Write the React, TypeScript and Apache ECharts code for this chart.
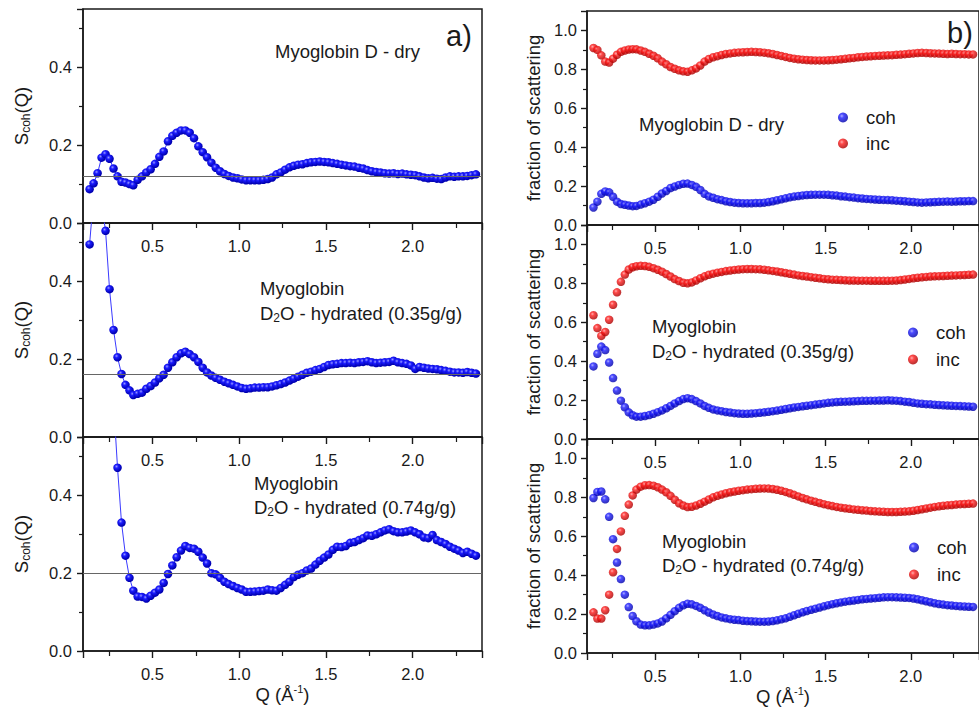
import React, { useEffect, useRef } from "react";
import * as echarts from "echarts";

// Momentum transfer Q (Å^-1), shared by every panel
const Q = [
  0.138, 0.161, 0.184, 0.207, 0.23, 0.253, 0.276, 0.299, 0.322, 0.345, 0.368, 0.39,
  0.415, 0.44, 0.465, 0.49, 0.515, 0.54, 0.565, 0.59, 0.615, 0.64,
  0.665, 0.69, 0.715, 0.74, 0.765, 0.79, 0.815, 0.84, 0.865, 0.89,
  0.915, 0.94, 0.965, 0.99, 1.015, 1.04, 1.065, 1.09, 1.115, 1.14,
  1.165, 1.19, 1.215, 1.24, 1.265, 1.29, 1.315, 1.34, 1.365, 1.39,
  1.415, 1.44, 1.465, 1.49, 1.515, 1.54, 1.565, 1.59, 1.615, 1.64,
  1.665, 1.69, 1.715, 1.74, 1.765, 1.79, 1.815, 1.84, 1.865, 1.89,
  1.915, 1.94, 1.965, 1.99, 2.015, 2.04, 2.065, 2.09, 2.115, 2.14,
  2.165, 2.19, 2.215, 2.24, 2.265, 2.29, 2.315, 2.34, 2.365,
];

// Panel a) S_coh(Q)
const scohDry = [
  0.087, 0.102, 0.128, 0.168, 0.177, 0.165, 0.14, 0.12, 0.106, 0.104, 0.1, 0.097,
  0.111, 0.12, 0.13, 0.138, 0.152, 0.17, 0.184, 0.21, 0.224, 0.232,
  0.238, 0.238, 0.232, 0.218, 0.197, 0.182, 0.169, 0.155, 0.142, 0.133,
  0.126, 0.121, 0.117, 0.115, 0.112, 0.11, 0.11, 0.11, 0.11, 0.111,
  0.113, 0.117, 0.125, 0.13, 0.137, 0.143, 0.147, 0.15, 0.151, 0.154,
  0.156, 0.157, 0.158, 0.157, 0.156, 0.154, 0.152, 0.15, 0.148, 0.146,
  0.145, 0.142, 0.14, 0.136, 0.133, 0.131, 0.13, 0.128, 0.127, 0.128,
  0.126, 0.127, 0.125, 0.124, 0.123, 0.12, 0.117, 0.115, 0.116, 0.114,
  0.113, 0.117, 0.12, 0.119, 0.12, 0.12, 0.121, 0.123, 0.125,
];
const scoh035 = [
  0.495, 0.62, 0.66, 0.6, 0.53, 0.38, 0.275, 0.205, 0.162, 0.134, 0.12, 0.108,
  0.111, 0.114, 0.124, 0.131, 0.14, 0.151, 0.16, 0.178, 0.192, 0.205,
  0.215, 0.219, 0.213, 0.205, 0.193, 0.178, 0.166, 0.158, 0.152, 0.147,
  0.142, 0.138, 0.134, 0.13, 0.126, 0.124, 0.125, 0.127, 0.127, 0.128,
  0.128, 0.13, 0.133, 0.136, 0.14, 0.145, 0.15, 0.155, 0.16, 0.165,
  0.168, 0.172, 0.175, 0.18, 0.185, 0.187, 0.188, 0.19, 0.19, 0.191,
  0.19, 0.192, 0.193, 0.195, 0.192, 0.19, 0.191, 0.192, 0.193, 0.196,
  0.192, 0.19, 0.188, 0.184, 0.175, 0.18, 0.178, 0.176, 0.175, 0.174,
  0.172, 0.17, 0.168, 0.166, 0.166, 0.165, 0.167, 0.165, 0.163,
];
const scoh074 = [
  1.0, 1.1, 1.1, 1.0, 0.88, 0.76, 0.64, 0.471, 0.33, 0.245, 0.188, 0.155,
  0.14, 0.139, 0.135, 0.142, 0.15, 0.158, 0.175, 0.198, 0.22, 0.241,
  0.258, 0.27, 0.265, 0.263, 0.255, 0.24, 0.225, 0.2, 0.197, 0.188,
  0.178, 0.172, 0.167, 0.162, 0.158, 0.152, 0.152, 0.153, 0.154, 0.155,
  0.158, 0.156, 0.155, 0.162, 0.17, 0.178, 0.19, 0.196, 0.2, 0.207,
  0.212, 0.222, 0.232, 0.24, 0.248, 0.26, 0.268, 0.267, 0.27, 0.278,
  0.28, 0.285, 0.29, 0.297, 0.296, 0.3, 0.305, 0.31, 0.313, 0.308,
  0.305, 0.305, 0.307, 0.31, 0.305, 0.3, 0.292, 0.29, 0.298, 0.285,
  0.28, 0.275, 0.268, 0.263, 0.258, 0.252, 0.255, 0.25, 0.245,
];
const baselines = [0.12, 0.163, 0.2];

// Panel b) fraction of scattering
const cohDry = [
  0.09, 0.12, 0.16, 0.172, 0.168, 0.145, 0.12, 0.108, 0.104, 0.1, 0.097, 0.098,
  0.105, 0.112, 0.12, 0.13, 0.145, 0.162, 0.175, 0.19, 0.198, 0.206,
  0.212, 0.213, 0.206, 0.196, 0.18, 0.16, 0.147, 0.14, 0.133, 0.128,
  0.122, 0.118, 0.115, 0.113, 0.112, 0.112, 0.112, 0.113, 0.113, 0.115,
  0.118, 0.122, 0.127, 0.132, 0.137, 0.142, 0.146, 0.149, 0.152, 0.154,
  0.155, 0.156, 0.156, 0.156, 0.155, 0.153, 0.151, 0.148, 0.146, 0.143,
  0.141, 0.138, 0.136, 0.134, 0.133, 0.131, 0.13, 0.129, 0.128, 0.127,
  0.125, 0.124, 0.122, 0.12, 0.118, 0.116, 0.115, 0.116, 0.117, 0.118,
  0.119, 0.12, 0.121, 0.12, 0.121, 0.122, 0.122, 0.123, 0.123,
];
const incDry = [
  0.91, 0.9, 0.872, 0.84, 0.835, 0.855, 0.875, 0.89, 0.897, 0.902, 0.904, 0.903,
  0.897, 0.89, 0.88, 0.87, 0.857, 0.84, 0.826, 0.812, 0.803, 0.795,
  0.79, 0.788, 0.795, 0.805, 0.82, 0.84, 0.853, 0.862, 0.868, 0.874,
  0.879, 0.882, 0.885, 0.887, 0.888, 0.889, 0.89, 0.889, 0.888, 0.886,
  0.883, 0.879, 0.874, 0.869, 0.864, 0.859, 0.855, 0.852, 0.85, 0.848,
  0.847, 0.846, 0.846, 0.846, 0.847, 0.848, 0.85, 0.852, 0.854, 0.857,
  0.859, 0.862, 0.864, 0.866, 0.867, 0.869, 0.87, 0.871, 0.872, 0.873,
  0.875, 0.876, 0.878, 0.88, 0.882, 0.884, 0.885, 0.884, 0.883, 0.882,
  0.881, 0.88, 0.879, 0.88, 0.879, 0.878, 0.878, 0.877, 0.877,
];
const coh035 = [
  0.373, 0.438, 0.475, 0.457, 0.393, 0.313, 0.249, 0.197, 0.163, 0.137, 0.122, 0.115,
  0.115, 0.118, 0.123, 0.13, 0.138, 0.147, 0.158, 0.17, 0.183, 0.195,
  0.205, 0.21, 0.205, 0.195, 0.183, 0.17, 0.16, 0.152, 0.147, 0.143,
  0.139, 0.136, 0.133, 0.131, 0.13, 0.13, 0.131, 0.133, 0.135, 0.137,
  0.14, 0.143, 0.146, 0.15, 0.154, 0.158, 0.162, 0.165, 0.168, 0.171,
  0.174, 0.177, 0.18, 0.183, 0.186, 0.188, 0.19, 0.191, 0.192, 0.193,
  0.194, 0.195, 0.196, 0.196, 0.197, 0.197, 0.198, 0.198, 0.199, 0.198,
  0.197, 0.195, 0.192, 0.19, 0.186, 0.183, 0.181, 0.179, 0.178, 0.176,
  0.175, 0.173, 0.172, 0.171, 0.17, 0.169, 0.168, 0.167, 0.166,
];
const inc035 = [
  0.636, 0.57, 0.53, 0.55, 0.613, 0.69, 0.754, 0.808, 0.845, 0.871, 0.883, 0.888,
  0.89, 0.889, 0.885, 0.878, 0.87, 0.86, 0.848, 0.835, 0.822, 0.812,
  0.803, 0.8, 0.805, 0.815, 0.826, 0.836, 0.844, 0.85, 0.855, 0.859,
  0.863, 0.866, 0.869, 0.871, 0.873, 0.874, 0.874, 0.873, 0.872, 0.87,
  0.867, 0.864, 0.861, 0.857, 0.853, 0.849, 0.845, 0.841, 0.838, 0.835,
  0.832, 0.829, 0.826, 0.823, 0.821, 0.819, 0.818, 0.817, 0.816, 0.815,
  0.815, 0.814, 0.814, 0.814, 0.813, 0.813, 0.813, 0.813, 0.813, 0.814,
  0.815, 0.817, 0.82, 0.823, 0.826, 0.829, 0.831, 0.833, 0.835, 0.836,
  0.837, 0.838, 0.839, 0.84, 0.841, 0.842, 0.843, 0.844, 0.845,
];
const coh074 = [
  0.797, 0.828, 0.83, 0.79, 0.7, 0.585, 0.465, 0.38, 0.3, 0.236, 0.19, 0.163,
  0.146, 0.142, 0.142, 0.146, 0.152, 0.162, 0.178, 0.196, 0.215, 0.232,
  0.245, 0.253, 0.25, 0.242, 0.232, 0.22, 0.208, 0.198, 0.19, 0.183,
  0.178, 0.174, 0.171, 0.169, 0.166, 0.164, 0.163, 0.162, 0.161, 0.161,
  0.162, 0.164, 0.168, 0.173, 0.178, 0.186, 0.194, 0.202, 0.209, 0.216,
  0.222, 0.228, 0.234, 0.24, 0.246, 0.251, 0.256, 0.26, 0.264, 0.267,
  0.27, 0.273, 0.276, 0.278, 0.28, 0.282, 0.284, 0.286, 0.287, 0.287,
  0.286, 0.285, 0.284, 0.283, 0.28, 0.276, 0.271, 0.266, 0.261, 0.256,
  0.252, 0.249, 0.246, 0.244, 0.242, 0.24, 0.239, 0.238, 0.237,
];
const inc074 = [
  0.209, 0.177, 0.177, 0.22, 0.3, 0.415, 0.535, 0.625, 0.705, 0.763, 0.81, 0.84,
  0.855, 0.862, 0.863, 0.86, 0.852, 0.84, 0.826, 0.808, 0.788, 0.77,
  0.758, 0.75, 0.752, 0.758, 0.767, 0.778, 0.789, 0.8, 0.808, 0.815,
  0.821, 0.826, 0.83, 0.834, 0.837, 0.84, 0.842, 0.844, 0.845, 0.846,
  0.845, 0.843, 0.839, 0.834, 0.828, 0.821, 0.813, 0.805, 0.797, 0.79,
  0.783, 0.777, 0.771, 0.765, 0.76, 0.755, 0.751, 0.747, 0.744, 0.741,
  0.738, 0.736, 0.734, 0.732, 0.73, 0.728, 0.727, 0.726, 0.725, 0.725,
  0.725, 0.726, 0.727, 0.728, 0.731, 0.735, 0.739, 0.743, 0.747, 0.751,
  0.754, 0.757, 0.759, 0.761, 0.763, 0.765, 0.766, 0.767, 0.768,
];

const FONT = '"Liberation Sans", Arial, Helvetica, sans-serif';
const INK = "#1a1a1a";

const blueBall = {
  type: "radial", x: 0.38, y: 0.35, r: 0.6,
  colorStops: [
    { offset: 0, color: "#9a9aff" },
    { offset: 0.35, color: "#1c1cff" },
    { offset: 1, color: "#0000b0" },
  ],
};
const redBall = {
  type: "radial", x: 0.38, y: 0.35, r: 0.6,
  colorStops: [
    { offset: 0, color: "#ff9a9a" },
    { offset: 0.35, color: "#ff1c1c" },
    { offset: 1, color: "#b00000" },
  ],
};

const pairs = (ys: number[]) => Q.map((q, k) => [q, ys[k]]);

const richBase = {
  a: { fontSize: 18.5, fontFamily: FONT, color: INK, lineHeight: 22 },
  s: { fontSize: 12, fontFamily: FONT, color: INK, lineHeight: 12, verticalAlign: "bottom" },
  p: { fontSize: 11, fontFamily: FONT, color: INK, lineHeight: 11, verticalAlign: "top" },
};

export default function App() {
  const ref = useRef<HTMLDivElement>(null);

  useEffect(() => {
    if (!ref.current) return;
    const chart = echarts.init(ref.current, undefined, { renderer: "svg" });

    const leftTops = [9, 223, 437];
    const rightTops = [11, 225, 439];
    const grids: any[] = [];
    leftTops.forEach((t) =>
      grids.push({ left: 83, top: t, width: 399, height: 214, show: true, borderColor: INK, borderWidth: 1.5, backgroundColor: "transparent" })
    );
    rightTops.forEach((t) =>
      grids.push({ left: 587, top: t, width: 399, height: 214, show: true, borderColor: INK, borderWidth: 1.5, backgroundColor: "transparent" })
    );

    const xAxes = grids.map((_, i) => ({
      type: "value",
      gridIndex: i,
      min: 0.1,
      max: 2.4,
      splitNumber: 5,
      name: i === 2 || i === 5 ? "{a|Q (Å}{p|-1}{a|)}" : "",
      nameLocation: "middle",
      nameGap: 32,
      nameTextStyle: { rich: richBase },
      axisLine: { show: true, onZero: false, lineStyle: { color: INK, width: 1.5 } },
      axisTick: { show: true, inside: false, length: 7, lineStyle: { color: INK, width: 1.4 } },
      minorTick: { show: true, splitNumber: 2, length: 5, lineStyle: { color: INK, width: 1.2 } },
      splitLine: { show: false },
      axisLabel: {
        fontSize: 16.5, fontFamily: FONT, color: INK, margin: 14,
        showMinLabel: false, showMaxLabel: false,
        formatter: (v: number) => v.toFixed(1),
      },
    }));

    const yAxes = grids.map((_, i) => {
      const left = i < 3;
      return {
        type: "value",
        gridIndex: i,
        min: 0,
        max: left ? 0.55 : 1.1,
        interval: 0.2,
        name: left ? "{a|S}{s|coh}{a|(Q)}" : "fraction of scattering",
        nameLocation: "middle",
        nameGap: left ? 51 : 44,
        nameTextStyle: left ? { rich: richBase } : { fontSize: 18.5, fontFamily: FONT, color: INK },
        axisLine: { show: true, onZero: false, lineStyle: { color: INK, width: 1.5 } },
        axisTick: { show: true, inside: false, length: 6, lineStyle: { color: INK, width: 1.4 } },
        minorTick: { show: true, splitNumber: 2, length: 4, lineStyle: { color: INK, width: 1.2 } },
        splitLine: { show: false },
        axisLabel: {
          fontSize: 16.5, fontFamily: FONT, color: INK, margin: left ? 11 : 10,
          showMaxLabel: false,
          formatter: (v: number) => v.toFixed(1),
        },
      };
    });

    const leftData = [scohDry, scoh035, scoh074];
    const rightData = [
      [cohDry, incDry],
      [coh035, inc035],
      [coh074, inc074],
    ];

    const series: any[] = [];
    leftData.forEach((ys, i) => {
      series.push({
        type: "line",
        name: "S_coh " + i,
        xAxisIndex: i,
        yAxisIndex: i,
        data: pairs(ys),
        symbol: "circle",
        symbolSize: 8.5,
        showSymbol: true,
        clip: true,
        lineStyle: { color: "#3a3aff", width: 1 },
        itemStyle: { color: blueBall },
        markLine: {
          silent: true,
          symbol: "none",
          label: { show: false },
          lineStyle: { color: "#666", width: 1.2, type: "solid" },
          data: [{ yAxis: baselines[i] }],
        },
        z: 3,
      });
    });
    rightData.forEach(([coh, inc], i) => {
      series.push({
        type: "scatter", name: "coh", xAxisIndex: 3 + i, yAxisIndex: 3 + i,
        data: pairs(coh), symbol: "circle", symbolSize: 8.5, itemStyle: { color: blueBall },
      });
      series.push({
        type: "scatter", name: "inc", xAxisIndex: 3 + i, yAxisIndex: 3 + i,
        data: pairs(inc), symbol: "circle", symbolSize: 8.5, itemStyle: { color: redBall },
      });
    });

    const legendAt = (left: number, top: number, gap: number) => ({
      data: ["coh", "inc"],
      orient: "vertical",
      left,
      top,
      itemGap: gap,
      icon: "circle",
      itemWidth: 10,
      itemHeight: 10,
      selectedMode: false,
      textStyle: { fontSize: 18.5, fontFamily: FONT, color: INK, lineHeight: 18, padding: [0, 0, 0, 13] },
    });

    const txt = (x: number, y: number, text: string, size = 18.5) => ({
      type: "text",
      x,
      y,
      style: { text, font: `${size}px ${FONT}`, fill: INK, verticalAlign: "middle" },
    });
    const richTxt = (x: number, y: number, text: string) => ({
      type: "text",
      x,
      y,
      style: { text, rich: richBase, fill: INK, verticalAlign: "middle" },
    });

    chart.setOption({
      animation: false,
      backgroundColor: "#fff",
      textStyle: { fontFamily: FONT },
      grid: grids,
      xAxis: xAxes,
      yAxis: yAxes,
      series,
      legend: [legendAt(833, 103, 7), legendAt(903, 318, 8), legendAt(904, 533, 8)],
      graphic: [
        txt(446, 36, "a)", 29),
        txt(947, 33, "b)", 29),
        txt(275, 51, "Myoglobin D - dry"),
        txt(639, 124, "Myoglobin D - dry"),
        txt(260, 288, "Myoglobin"),
        richTxt(260, 313, "{a|D}{s|2}{a|O - hydrated (0.35g/g)}"),
        txt(254, 483, "Myoglobin"),
        richTxt(254, 507, "{a|D}{s|2}{a|O - hydrated (0.74g/g)}"),
        txt(652, 326, "Myoglobin"),
        richTxt(652, 351, "{a|D}{s|2}{a|O - hydrated (0.35g/g)}"),
        txt(662, 541, "Myoglobin"),
        richTxt(662, 565, "{a|D}{s|2}{a|O - hydrated (0.74g/g)}"),
      ],
    });

    return () => chart.dispose();
  }, []);

  return (
    <div
      ref={ref}
      style={{ position: "absolute", left: 0, top: 0, width: 979, height: 712, background: "#fff" }}
    />
  );
}
